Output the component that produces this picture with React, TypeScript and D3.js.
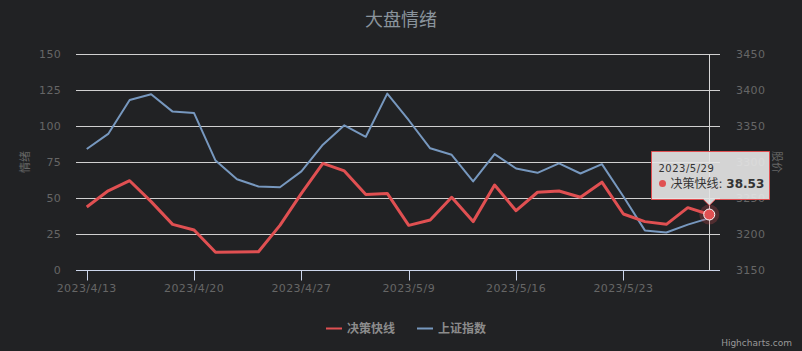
import { useEffect, useRef } from "react";
import * as d3 from "d3";

const dates = [
  "2023/4/13", "2023/4/14", "2023/4/17", "2023/4/18", "2023/4/19", "2023/4/20",
  "2023/4/21", "2023/4/24", "2023/4/25", "2023/4/26", "2023/4/27", "2023/4/28",
  "2023/5/4", "2023/5/5", "2023/5/8", "2023/5/9", "2023/5/10", "2023/5/11",
  "2023/5/12", "2023/5/15", "2023/5/16", "2023/5/17", "2023/5/18", "2023/5/19",
  "2023/5/22", "2023/5/23", "2023/5/24", "2023/5/25", "2023/5/26", "2023/5/29",
];

// 决策快线 (left axis)
const fastLine = [
  43.8, 55, 62, 47.5, 31.7, 27.8, 12.3, 12.5, 12.7, 31, 53.2, 74, 68.8, 52.5, 53.2,
  31, 34.7, 50.5, 33.6, 59, 41.2, 54, 54.9, 50.5, 61, 38.9, 33.6, 31.7, 43.3, 38.53,
];

// 上证指数 (right axis)
const shIndex = [
  3318, 3339, 3386, 3394, 3370, 3368, 3302, 3276, 3266, 3265, 3287, 3324, 3351, 3335,
  3395, 3358, 3319, 3310, 3273, 3311, 3291, 3285, 3298, 3284, 3297, 3252, 3205, 3202,
  3213, 3222,
];

const leftTicks = [0, 25, 50, 75, 100, 125, 150];
const rightTicks = [3150, 3200, 3250, 3300, 3350, 3400, 3450];

const seriesNames = ["决策快线", "上证指数"];
const colors = ["#e05052", "#7798bf"];

const font = '"DejaVu Sans", "Noto Sans CJK SC", sans-serif';

export default function App() {
  const ref = useRef<SVGSVGElement>(null);

  useEffect(() => {
    const width = 802;
    const height = 351;
    const m = { left: 76, right: 82, top: 54, bottom: 81 };
    const svg = d3.select(ref.current);
    svg.selectAll("*").remove();

    svg.append("rect").attr("width", width).attr("height", height).attr("fill", "#212224");

    const x = d3
      .scaleBand()
      .domain(dates)
      .range([m.left, width - m.right]);
    const px = (d: string) => (x(d) as number) + x.bandwidth() / 2;
    const yL = d3.scaleLinear().domain([0, 150]).range([height - m.bottom, m.top]);
    const yR = d3.scaleLinear().domain([3150, 3450]).range([height - m.bottom, m.top]);

    // title
    svg
      .append("text")
      .attr("x", width / 2)
      .attr("y", 26)
      .attr("text-anchor", "middle")
      .attr("font-family", font)
      .attr("font-size", 18)
      .attr("fill", "#8a949c")
      .text("大盘情绪");

    // grid
    svg
      .append("g")
      .selectAll("line")
      .data(leftTicks.slice(1))
      .join("line")
      .attr("x1", m.left)
      .attr("x2", width - m.right)
      .attr("y1", (d) => Math.round(yL(d)) + 0.5)
      .attr("y2", (d) => Math.round(yL(d)) + 0.5)
      .attr("stroke", "#d0d0d0")
      .attr("stroke-width", 1);

    // left labels
    svg
      .append("g")
      .selectAll("text")
      .data(leftTicks)
      .join("text")
      .attr("x", 61)
      .attr("y", (d) => yL(d) + 4)
      .attr("text-anchor", "end")
      .attr("font-family", font)
      .attr("font-size", 11)
      .attr("letter-spacing", 0.3)
      .attr("fill", "#666")
      .text((d) => d);

    // right labels
    svg
      .append("g")
      .selectAll("text")
      .data(rightTicks)
      .join("text")
      .attr("x", 736)
      .attr("y", (d) => yR(d) + 4)
      .attr("font-family", font)
      .attr("font-size", 11)
      .attr("letter-spacing", 0.3)
      .attr("fill", "#666")
      .text((d) => d);

    // axis titles
    svg
      .append("text")
      .attr("transform", `translate(29,${(m.top + height - m.bottom) / 2}) rotate(-90)`)
      .attr("text-anchor", "middle")
      .attr("font-family", font)
      .attr("font-size", 11)
      .attr("fill", "#666")
      .text("情绪");
    svg
      .append("text")
      .attr("transform", `translate(773,${(m.top + height - m.bottom) / 2}) rotate(90)`)
      .attr("text-anchor", "middle")
      .attr("font-family", font)
      .attr("font-size", 11)
      .attr("fill", "#666")
      .text("股价");

    // x axis
    const baseY = height - m.bottom + 0.5;
    svg
      .append("line")
      .attr("x1", m.left)
      .attr("x2", width - m.right)
      .attr("y1", baseY)
      .attr("y2", baseY)
      .attr("stroke", "#ccd6eb");
    const tickDates = dates.filter((_, i) => i % 5 === 0);
    const xt = svg.append("g").selectAll("g").data(tickDates).join("g");
    xt.append("line")
      .attr("x1", (d) => Math.round(px(d)) + 0.5)
      .attr("x2", (d) => Math.round(px(d)) + 0.5)
      .attr("y1", baseY)
      .attr("y2", baseY + 10)
      .attr("stroke", "#ccd6eb");
    xt.append("text")
      .attr("x", (d) => px(d))
      .attr("y", 292)
      .attr("text-anchor", "middle")
      .attr("font-family", font)
      .attr("font-size", 11)
      .attr("letter-spacing", 0.4)
      .attr("fill", "#666")
      .text((d) => d);

    // crosshair
    const last = dates[dates.length - 1];
    svg
      .append("line")
      .attr("x1", Math.round(px(last)) + 0.5)
      .attr("x2", Math.round(px(last)) + 0.5)
      .attr("y1", m.top)
      .attr("y2", height - m.bottom)
      .attr("stroke", "#d8d8d8");

    // lines
    const lineL = d3
      .line<number>()
      .x((_, i) => px(dates[i]))
      .y((d) => yL(d));
    const lineR = d3
      .line<number>()
      .x((_, i) => px(dates[i]))
      .y((d) => yR(d));
    svg
      .append("path")
      .attr("d", lineR(shIndex))
      .attr("fill", "none")
      .attr("stroke", colors[1])
      .attr("stroke-width", 2)
      .attr("stroke-linejoin", "round");
    svg
      .append("path")
      .attr("d", lineL(fastLine))
      .attr("fill", "none")
      .attr("stroke", colors[0])
      .attr("stroke-width", 3)
      .attr("stroke-linejoin", "round");

    // hover marker
    const hx = px(last);
    const hy = yL(fastLine[fastLine.length - 1]);
    svg.append("circle").attr("cx", hx).attr("cy", hy).attr("r", 10).attr("fill", colors[0]).attr("opacity", 0.25);
    svg
      .append("circle")
      .attr("cx", hx)
      .attr("cy", hy)
      .attr("r", 5.5)
      .attr("fill", colors[0])
      .attr("stroke", "#fff")
      .attr("stroke-width", 1);

    // tooltip
    const tx = 651.5;
    const ty = 151.5;
    const tw = 118;
    const th = 48;
    const tip = svg.append("g");
    tip
      .append("path")
      .attr(
        "d",
        `M${tx},${ty} H${tx + tw} V${ty + th} H${hx + 6} L${hx},${ty + th + 6} L${hx - 6},${ty + th} H${tx} Z`
      )
      .attr("fill", "rgba(228,228,228,0.92)")
      .attr("stroke", colors[0])
      .attr("stroke-width", 1);
    tip
      .append("text")
      .attr("x", tx + 7)
      .attr("y", ty + 20)
      .attr("font-family", font)
      .attr("font-size", 10)
      .attr("letter-spacing", 0.5)
      .attr("fill", "#333")
      .text(last);
    tip
      .append("circle")
      .attr("cx", tx + 11)
      .attr("cy", ty + 32)
      .attr("r", 3.5)
      .attr("fill", colors[0]);
    const t2 = tip
      .append("text")
      .attr("x", tx + 19)
      .attr("y", ty + 36.5)
      .attr("font-family", font)
      .attr("font-size", 12)
      .attr("fill", "#333");
    t2.append("tspan").text(`${seriesNames[0]}: `);
    t2.append("tspan").attr("font-weight", "bold").text(fastLine[fastLine.length - 1].toFixed(2));

    // legend
    const legendX = [326, 417];
    const lg = svg.append("g").selectAll("g").data(seriesNames).join("g");
    lg.append("line")
      .attr("x1", (_, i) => legendX[i])
      .attr("x2", (_, i) => legendX[i] + 16)
      .attr("y1", 328.5)
      .attr("y2", 328.5)
      .attr("stroke", (_, i) => colors[i])
      .attr("stroke-width", 2);
    lg.append("text")
      .attr("x", (_, i) => legendX[i] + 21)
      .attr("y", 333)
      .attr("font-family", font)
      .attr("font-size", 12)
      .attr("font-weight", "bold")
      .attr("fill", "#8c8c8c")
      .text((d) => d);

    // credits
    svg
      .append("text")
      .attr("x", width - 10)
      .attr("y", height - 5)
      .attr("text-anchor", "end")
      .attr("font-family", font)
      .attr("font-size", 9)
      .attr("fill", "#999")
      .text("Highcharts.com");
  }, []);

  return (
    <svg
      ref={ref}
      width={802}
      height={351}
      style={{ position: "absolute", left: 0, top: 0, display: "block" }}
    />
  );
}
